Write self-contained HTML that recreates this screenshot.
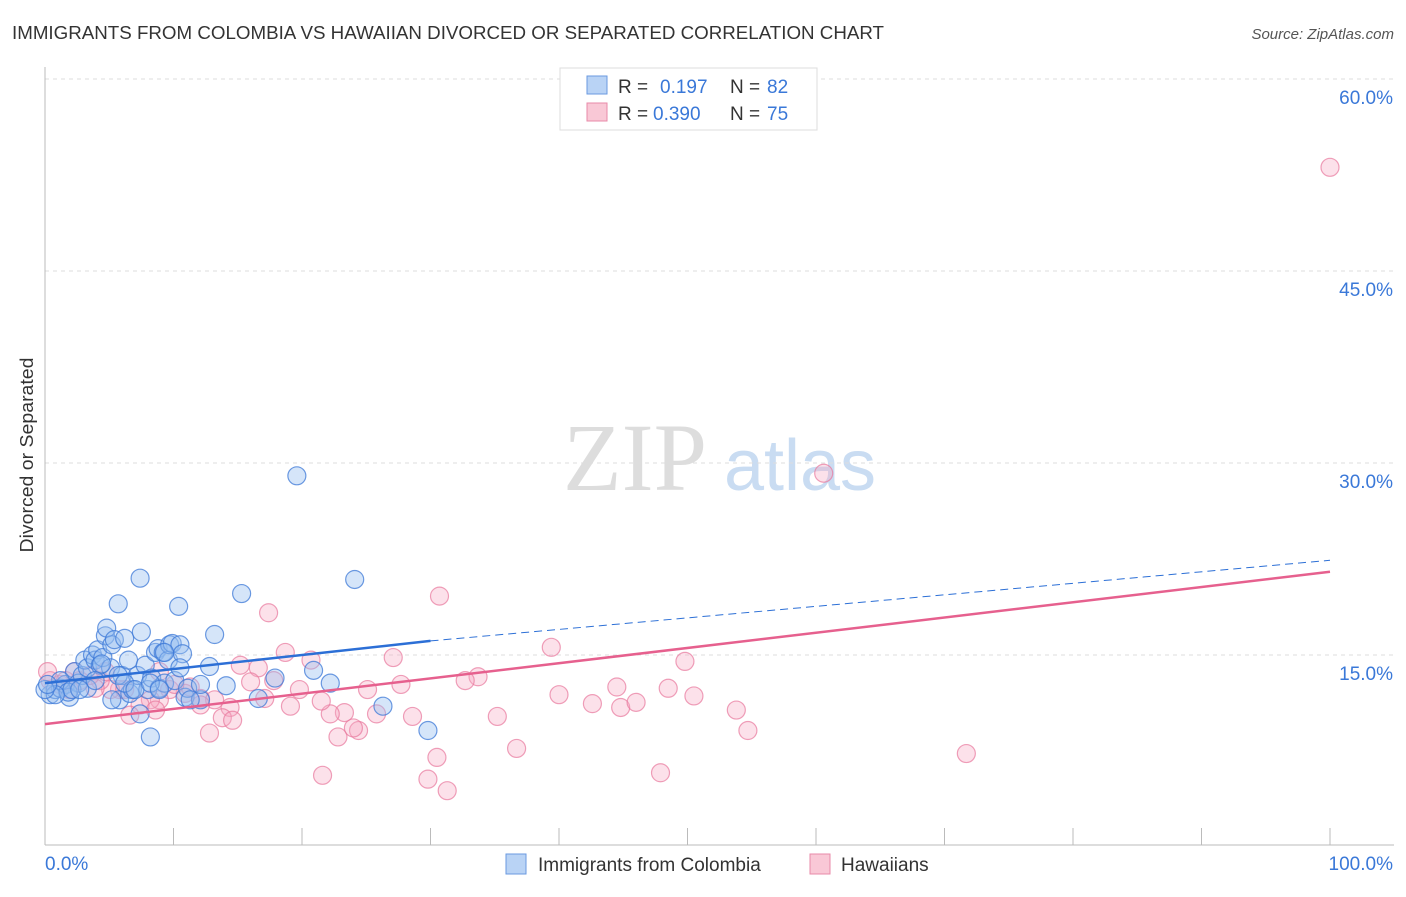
<!DOCTYPE html>
<html><head><meta charset="utf-8"><style>
body{margin:0;background:#fff;font-family:"Liberation Sans",sans-serif}
</style></head><body>
<svg id="chart" width="1406" height="892" xmlns="http://www.w3.org/2000/svg" font-family="Liberation Sans, sans-serif">
<text x="12" y="39" font-size="18" fill="#333" textLength="872" lengthAdjust="spacingAndGlyphs">IMMIGRANTS FROM COLOMBIA VS HAWAIIAN DIVORCED OR SEPARATED CORRELATION CHART</text>
<text x="1394" y="39" font-size="15" fill="#555" text-anchor="end" font-style="italic">Source: ZipAtlas.com</text>
<text transform="translate(33,455) rotate(-90)" font-size="18" fill="#333" text-anchor="middle" textLength="195" lengthAdjust="spacingAndGlyphs">Divorced or Separated</text>
<g><text x="635" y="490" font-size="96" font-family="Liberation Serif, serif" fill="#ddd" text-anchor="middle">ZIP</text><text x="800" y="490" font-size="72" fill="#c9dcf2" text-anchor="middle">atlas</text></g>
<g id="grid"></g><g id="marks"></g>
<g>
<rect x="560" y="68" width="257" height="62" fill="#fff" stroke="#ddd"/>
<rect x="587" y="76" width="20" height="18" fill="#b9d3f5" stroke="#6a9ae0"/>
<text x="618" y="93" font-size="19" fill="#333">R =</text><text x="660" y="93" font-size="19" fill="#3a78d8">0.197</text>
<text x="730" y="93" font-size="19" fill="#333">N =</text><text x="767" y="93" font-size="19" fill="#3a78d8">82</text>
<rect x="587" y="103" width="20" height="18" fill="#f9c8d6" stroke="#e88aa8"/>
<text x="618" y="120" font-size="19" fill="#333">R =</text><text x="653" y="120" font-size="19" fill="#3a78d8">0.390</text>
<text x="730" y="120" font-size="19" fill="#333">N =</text><text x="767" y="120" font-size="19" fill="#3a78d8">75</text>
</g>
<g>
<rect x="506" y="854" width="20" height="20" fill="#b9d3f5" stroke="#6a9ae0"/>
<text x="538" y="871" font-size="19" fill="#333">Immigrants from Colombia</text>
<rect x="810" y="854" width="20" height="20" fill="#f9c8d6" stroke="#e88aa8"/>
<text x="841" y="871" font-size="19" fill="#333">Hawaiians</text>
</g>
</svg>
<script>
const yTicks=[15,30,45,60];
const yTickLabels=["15.0%","30.0%","45.0%","60.0%"];
const xTickLabels=["0.0%","100.0%"];
const blueX=[0.4,0.8,1.2,1.6,1.9,2.3,2.6,2.9,3.1,3.3,3.7,3.9,4.1,4.3,4.5,4.7,4.8,5.1,5.2,5.4,5.7,5.8,6.0,6.2,6.5,6.6,6.8,7.2,7.4,7.5,7.8,8.0,8.2,8.3,8.6,8.8,8.9,9.2,9.3,9.6,9.7,9.9,10.1,10.4,10.5,10.7,10.9,11.1,12.1,12.8,13.2,14.1,15.3,16.6,17.9,19.6,20.9,22.2,24.1,26.3,29.8,1.2,1.8,2.1,3.3,3.9,4.4,5.2,5.7,6.2,7.0,7.4,8.2,8.9,9.3,10.5,11.3,12.1,0.8,0.0,0.2,2.7];
const blueY=[11.9,12.3,12.4,12.7,11.7,13.7,12.8,13.4,14.6,14.0,15.0,14.6,15.4,14.2,14.8,16.5,17.1,14.0,15.8,16.2,19.0,11.5,13.4,16.3,14.6,12.0,12.3,13.4,21.0,16.8,14.2,12.3,8.6,13.2,15.2,15.5,12.4,15.2,12.8,14.6,15.8,15.9,13.0,18.8,15.8,15.1,11.7,12.4,11.5,14.1,16.6,12.6,19.8,11.6,13.2,29.0,13.8,12.8,20.9,11.0,9.1,13.0,12.1,12.3,12.4,13.0,14.3,11.5,13.4,12.8,12.3,10.4,12.8,12.3,15.2,14.0,11.5,12.7,11.9,12.3,12.7,12.3];
const pinkX=[100,60.6,30.7,17.4,39.4,49.8,27.1,18.7,20.7,33.7,32.7,15.2,16.6,17.8,16.0,19.8,25.1,27.7,40.0,44.5,48.5,50.5,42.6,44.8,46.0,53.8,54.7,71.7,47.9,36.7,35.2,28.6,25.8,23.3,22.2,21.5,19.1,14.4,13.8,14.6,12.8,22.8,24.4,24.0,29.8,30.5,31.3,21.6,10.9,11.3,12.1,13.2,9.7,8.9,8.2,7.4,6.6,5.8,5.1,4.3,3.9,3.5,2.7,1.9,1.2,0.4,0.2,1.6,2.3,4.7,6.2,8.6,10.1,12.1,17.1,8.9];
const pinkY=[53.1,29.2,19.6,18.3,15.6,14.5,14.8,15.2,14.6,13.3,13.0,14.2,14.0,13.0,12.9,12.3,12.3,12.7,11.9,12.5,12.4,11.8,11.2,10.9,11.3,10.7,9.1,7.3,5.8,7.7,10.2,10.2,10.4,10.5,10.4,11.4,11.0,10.9,10.1,9.9,8.9,8.6,9.1,9.3,5.3,7.0,4.4,5.6,12.0,12.5,11.6,11.5,12.3,11.5,11.5,11.1,10.3,12.3,12.3,13.0,12.4,13.4,13.0,12.3,12.7,13.0,13.7,13.0,13.7,13.7,12.3,10.7,12.7,11.1,11.6,13.7];
const blueTrend=[0,12.8,30,16.1,100,22.4];
const pinkTrend=[0,9.6,100,21.5];
const L=45,R=1330,B=847,T=79;
const sx=v=>L+v/100*(R-L), sy=v=>B-v/60*(B-T);
const NS="http://www.w3.org/2000/svg";
function mk(t,a,p){const e=document.createElementNS(NS,t);for(const k in a)e.setAttribute(k,a[k]);p.appendChild(e);return e;}
const g=document.getElementById('grid'),m=document.getElementById('marks');
yTicks.forEach((t,i)=>{
 const ln=mk('line',{x1:L,x2:1394,y1:sy(t),y2:sy(t),stroke:'#ddd','stroke-dasharray':'4,4'},g);
 
 const tx=mk('text',{x:1393,y:sy(t)+25,'font-size':19,fill:'#3a78d8','text-anchor':'end'},g);tx.textContent=yTickLabels[i];
 
});
const ax=mk('line',{x1:L,x2:L,y1:67,y2:845,stroke:'#bbb'},g);
const bx=mk('line',{x1:L,x2:1394,y1:845,y2:845,stroke:'#bbb'},g);
for(let i=1;i<=10;i++){const t=mk('line',{x1:sx(i*10),x2:sx(i*10),y1:828,y2:845,stroke:'#bbb'},g);}
[[0,'start',45],[100,'end',1393]].forEach((d,i)=>{const tx=mk('text',{x:d[2],y:870,'font-size':19,fill:'#3a78d8','text-anchor':d[1]},g);tx.textContent=xTickLabels[i];});
pinkX.forEach((x,i)=>{const c=mk('circle',{cx:sx(x),cy:sy(pinkY[i]),r:9,fill:'rgba(246,170,195,0.35)',stroke:'rgba(232,120,156,0.7)','stroke-width':1.2},m);
 });
blueX.forEach((x,i)=>{const c=mk('circle',{cx:sx(x),cy:sy(blueY[i]),r:9,fill:'rgba(150,190,240,0.4)',stroke:'rgba(60,120,215,0.75)','stroke-width':1.2},m);
 });
let l1=mk('line',{x1:sx(blueTrend[0]),y1:sy(blueTrend[1]),x2:sx(blueTrend[2]),y2:sy(blueTrend[3]),stroke:'#2c6fd6','stroke-width':2.5},m);

let l2=mk('line',{x1:sx(blueTrend[2]),y1:sy(blueTrend[3]),x2:sx(blueTrend[4]),y2:sy(blueTrend[5]),stroke:'#2c6fd6','stroke-width':1,'stroke-dasharray':'8,5'},m);

let l3=mk('line',{x1:sx(pinkTrend[0]),y1:sy(pinkTrend[1]),x2:sx(pinkTrend[2]),y2:sy(pinkTrend[3]),stroke:'#e6608e','stroke-width':2.5},m);

</script>
</body></html>
